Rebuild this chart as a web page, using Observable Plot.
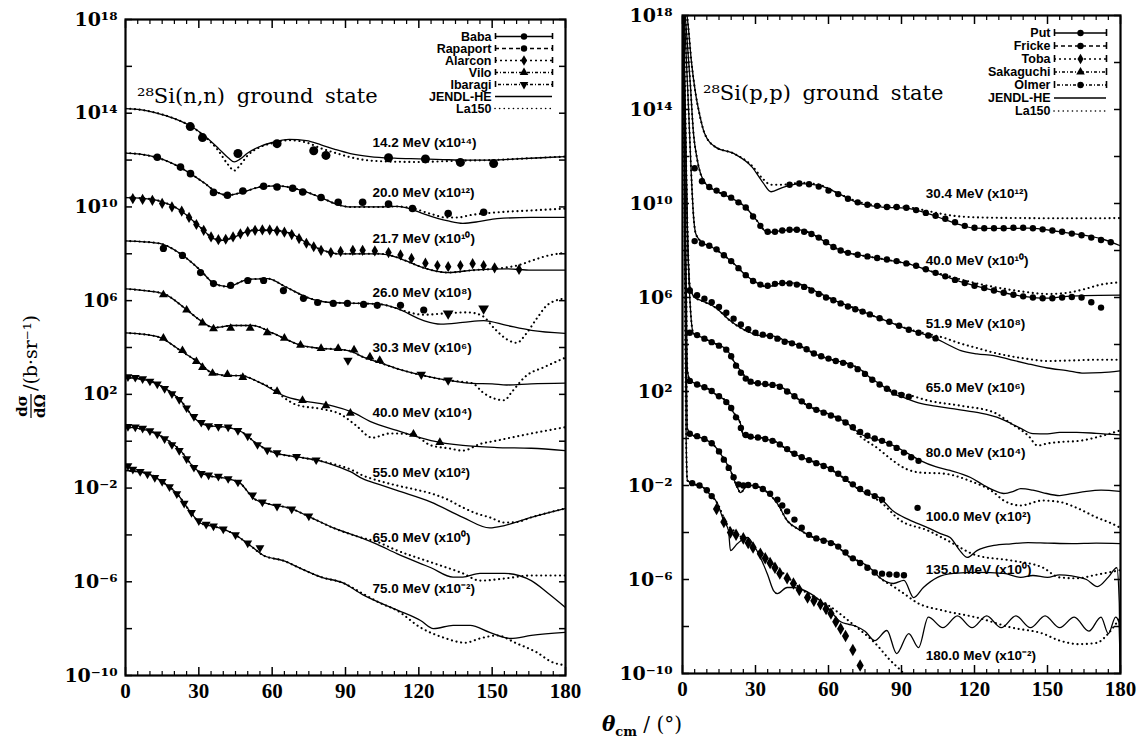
<!DOCTYPE html>
<html><head><meta charset="utf-8">
<script src="https://cdn.jsdelivr.net/npm/d3@7"></script>
<script src="https://cdn.jsdelivr.net/npm/@observablehq/plot@0.6"></script>
<style>
body{margin:0;background:#fff;}
#wrap{position:relative;width:1138px;height:741px;overflow:hidden;background:#fff;}
.abs{position:absolute;}
.title{font-family:"DejaVu Serif",serif;font-size:21px;word-spacing:5px;color:#000;white-space:nowrap;line-height:1;}
</style></head><body><div id="wrap"></div>
<script>
// ---------- tick values ----------
const angleMajor = [0,30,60,90,120,150,180];
const angleMinor = [5,10,15,20,25,35,40,45,50,55,65,70,75,80,85,95,100,105,110,115,125,130,135,140,145,155,160,165,170,175];
const yTickExp = [-10,-8,-6,-4,-2,0,2,4,6,8,10,12,14,16,18];
const yLabelExp = [-10,-6,-2,2,6,10,14,18];

// ---------- LEFT PANEL: 28Si(n,n)  [angle (deg), log10 of scaled dσ/dΩ] ----------
const nJ14 = [[0,14.2],[6,14.15],[12,14.03],[20,13.77],[27,13.43],[33,12.97],[38,12.5],[42,12.1],[44.5,11.92],[47,12.05],[50,12.3],[55,12.58],[60,12.75],[67,12.88],[74,12.83],[80,12.65],[86,12.45],[92,12.28],[100,12.15],[110,12.08],[120,12.05],[130,12.02],[140,12.0],[150,12.0],[160,12.05],[170,12.1],[180,12.15]];
const nL14 = [[0,14.2],[6,14.15],[12,14.03],[20,13.77],[27,13.43],[33,12.95],[38,12.4],[42,11.8],[44.5,11.55],[47,11.8],[50,12.2],[55,12.55],[60,12.72],[67,12.85],[74,12.75],[80,12.5],[86,12.3],[92,12.12],[100,11.98],[110,11.93],[120,11.92],[130,11.95],[140,11.98],[150,12.0],[160,12.05],[170,12.1],[180,12.15]];
const nX14 = [[26.5,13.43],[31.5,12.96],[46,12.28],[62,12.7],[77,12.4],[82,12.2],[107.6,12.1],[122.7,12.05],[137,11.9],[150.6,11.85]];

const nJ20 = [[0,12.3],[6,12.25],[13,12.1],[22.5,11.68],[32,11.04],[37.6,10.62],[41.7,10.5],[47,10.6],[56.5,10.88],[62,10.9],[71.6,10.72],[80,10.4],[86.7,10.1],[92,10.0],[104,10.0],[111,10.02],[117,9.9],[122,9.7],[128,9.5],[132,9.4],[138,9.3],[145,9.38],[152,9.5],[166,9.55],[180,9.55]];
const nL20 = [[0,12.3],[6,12.25],[13,12.1],[22.5,11.68],[32,11.04],[37.6,10.62],[41.7,10.5],[47,10.6],[56.5,10.88],[62,10.9],[71.6,10.72],[80,10.4],[86.7,10.1],[92,10.0],[104,10.0],[111,10.02],[117,9.95],[125,9.7],[131,9.55],[136,9.55],[141,9.65],[152,9.77],[166,9.85],[180,9.93]];
const nX20 = [[13,12.12],[22.5,11.7],[26.6,11.42],[36,10.62],[41.7,10.5],[48,10.68],[56.5,10.88],[62,10.85],[68.4,10.8],[72.5,10.64],[80,10.4],[87,10.2],[97,10.2],[107.6,10.12],[117.4,9.93],[132,9.72],[146.5,9.77]];

const nJ21 = [[0,10.4],[6,10.38],[13,10.28],[22.5,9.85],[30.7,9.12],[36,8.65],[39.7,8.57],[44,8.7],[52,9.0],[60.5,9.0],[67.5,8.87],[74.5,8.44],[81,8.14],[86.7,8.0],[97,8.0],[104,8.0],[111,7.85],[117,7.6],[122,7.4],[132,7.2],[142,7.3],[156,7.36],[166,7.3],[180,7.3]];
const nL21 = [[0,10.4],[6,10.38],[13,10.28],[22.5,9.85],[30.7,9.12],[36,8.65],[39.7,8.57],[44,8.7],[52,9.0],[60.5,9.0],[67.5,8.87],[74.5,8.44],[81,8.14],[86.7,8.0],[97,8.0],[104,8.0],[111,7.85],[117,7.6],[122,7.4],[132,7.2],[142,7.3],[150,7.35],[156,7.42],[161,7.52],[166,7.7],[172,7.9],[180,8.05]];
const nX21 = [[3,10.35],[7,10.32],[11,10.28],[15,10.15],[19,10.0],[23,9.82],[26,9.55],[29,9.25],[32,9.0],[35,8.72],[38,8.6],[41,8.62],[44,8.72],[47,8.85],[50,8.95],[53,9.0],[56,9.02],[59,9.02],[62,8.98],[65,8.92],[68,8.82],[71,8.65],[74,8.45],[77,8.3],[80,8.15],[84,8.05],[88,8.1],[93,8.15],[97,8.15],[102,8.12],[107.6,8.05],[112.5,7.95],[117,7.8],[122.7,7.6],[127.6,7.5],[132,7.45],[137,7.5],[142,7.58],[146.5,7.5],[151,7.4],[161,7.33]];

const nJ26 = [[0,8.55],[6,8.52],[14,8.44],[22.5,8.0],[30.7,7.29],[36,6.75],[41.7,6.6],[50,6.9],[58,6.94],[66,6.56],[74.5,6.13],[84,5.92],[97,5.88],[104,5.85],[111,5.67],[122,5.15],[129,5.0],[138,5.07],[146.5,5.15],[156,4.94],[166,4.73],[180,4.6]];
const nL26 = [[0,8.55],[6,8.52],[14,8.44],[22.5,8.0],[30.7,7.29],[36,6.75],[41.7,6.6],[50,6.9],[58,6.94],[66,6.56],[74.5,6.13],[84,5.92],[97,5.88],[104,5.85],[111,5.67],[116,5.5],[122,5.4],[130,5.45],[140,5.5],[146,5.35],[151,4.8],[156,4.35],[160,4.2],[164,4.6],[168,5.2],[173,5.85],[180,6.1]];
const nX26 = [[15.5,8.23],[23.3,7.93],[30.7,7.2],[36,6.73],[43,6.65],[50,6.86],[56.5,6.86],[64.6,6.43],[72.8,6.1],[78.6,5.92],[85,5.88],[90.8,5.88],[97.4,5.84],[103,5.8],[112.5,5.8],[122,5.6]];
const nI26 = [[132,5.45],[146.5,5.66]];

const nJ30 = [[0,6.5],[6,6.45],[15.5,6.3],[24,5.7],[30.7,5.15],[36,4.85],[44,4.94],[52,4.94],[60.5,4.6],[71.6,4.1],[80,3.96],[86,3.93],[92,3.85],[97,3.6],[104,3.35],[111,3.1],[122,2.8],[132,2.6],[142,2.47],[150,2.45],[156,2.4],[166,2.45],[180,2.48]];
const nL30 = [[0,6.5],[6,6.45],[15.5,6.3],[24,5.7],[30.7,5.15],[36,4.85],[44,4.94],[52,4.94],[60.5,4.6],[71.6,4.1],[80,3.96],[86,3.93],[92,3.85],[97,3.6],[104,3.35],[111,3.1],[122,2.8],[132,2.6],[142,2.47],[146,2.1],[150,1.85],[155,1.75],[158,2.1],[164,2.8],[171,3.15],[180,3.57]];
const nX30 = [[15.5,6.25],[25,5.6],[31.5,5.05],[36,4.8],[43,4.82],[51,4.82],[58,4.63],[65,4.4],[71.6,4.1],[80,3.96],[87,3.96],[93.5,3.9],[100,3.6],[104,3.45]];
const nI30 = [[91,3.45],[121,2.85],[132,2.6]];

const nJ40 = [[0,4.62],[6,4.58],[14,4.43],[22.5,3.87],[30.7,3.3],[34.8,2.95],[41.7,2.8],[47,2.8],[55,2.5],[64.6,1.95],[71.6,1.74],[80,1.6],[85,1.5],[93,1.23],[100,0.85],[111,0.46],[125,0.03],[138,-0.18],[152,-0.27],[166,-0.3],[180,-0.4]];
const nL40 = [[0,4.62],[6,4.58],[14,4.43],[22.5,3.87],[30.7,3.3],[34.8,2.95],[41.7,2.8],[47,2.8],[55,2.5],[60,2.25],[65,1.85],[70,1.55],[80,1.38],[88,1.15],[94,0.7],[101,0.15],[108,0.33],[117,0.3],[125,-0.18],[132,-0.3],[138,-0.4],[145,-0.12],[152,0.03],[166,0.33],[180,0.6]];
const nX40 = [[15.5,4.4],[23.3,3.87],[29,3.4],[31.5,3.15],[35.6,2.9],[41.7,2.85],[48,2.72],[62,2.13],[72.4,1.74],[82,1.52],[92,1.2],[117.8,0.3],[128.6,-0.05]];

const nJ55 = [[0,2.72],[9,2.6],[15.5,2.3],[22.5,1.74],[28,1.0],[33.5,0.67],[41.7,0.59],[48,0.37],[53.6,-0.1],[60.5,-0.48],[71.6,-0.69],[80,-0.85],[86,-1.05],[92,-1.3],[97,-1.6],[104,-1.85],[111,-2.1],[125,-2.6],[138,-3.25],[149,-3.7],[155,-3.6],[166,-3.25],[180,-2.87]];
const nL55 = [[0,2.72],[9,2.6],[15.5,2.3],[22.5,1.74],[28,1.0],[33.5,0.67],[41.7,0.59],[48,0.37],[53.6,-0.1],[60.5,-0.48],[71.6,-0.69],[80,-0.85],[86,-1.0],[92,-1.2],[97,-1.46],[104,-1.7],[111,-1.89],[118,-2.05],[125,-2.23],[132,-2.5],[138,-2.83],[144,-3.1],[149,-3.25],[155,-3.47],[160,-3.45],[166,-3.25],[180,-2.87]];
const nX55 = [[1,2.75],[4,2.72],[7,2.66],[10,2.56],[13,2.44],[16,2.25],[19,2.02],[22,1.78],[25,1.42],[28,1.05],[31,0.8],[34,0.66],[38,0.62],[42,0.6],[46,0.45],[50,0.22],[54,-0.15],[58,-0.38],[62,-0.5],[70,-0.65],[78,-0.8]];

const nJ65 = [[0,0.6],[9,0.46],[15.5,0.16],[22.5,-0.4],[28,-1.12],[33.5,-1.46],[41.7,-1.6],[47,-1.8],[52.4,-2.44],[58,-2.66],[67.5,-2.87],[75.7,-3.25],[85,-3.7],[96,-4.1],[103,-4.4],[111,-4.8],[125,-5.4],[134,-5.8],[138,-5.8],[145,-5.64],[155,-5.64],[166,-5.95],[173,-6.5],[180,-7.1]];
const nL65 = [[0,0.6],[9,0.46],[15.5,0.16],[22.5,-0.4],[28,-1.12],[33.5,-1.46],[41.7,-1.6],[47,-1.8],[52.4,-2.44],[58,-2.66],[67.5,-2.87],[75.7,-3.25],[85,-3.7],[96,-4.1],[103,-4.3],[111,-4.66],[125,-5.17],[138,-5.64],[145,-5.95],[155,-5.86],[166,-5.73],[180,-5.73]];
const nX65 = [[1,0.62],[4,0.6],[7,0.55],[10,0.44],[13,0.3],[16,0.1],[19,-0.15],[22,-0.4],[25,-0.75],[28,-1.12],[31,-1.38],[34,-1.45],[38,-1.5],[42,-1.6],[46,-1.75],[52,-2.3],[56,-2.6],[62,-2.78],[68,-2.9],[75,-3.2]];

const nJ75 = [[0,-1.25],[9,-1.38],[15.5,-1.76],[21,-2.23],[27,-3.08],[30.7,-3.5],[37.6,-3.68],[44,-3.94],[51,-4.45],[56.5,-4.88],[64.6,-5.1],[71.6,-5.43],[80,-5.8],[89,-6.05],[97,-6.55],[111,-7.2],[120.7,-7.65],[126,-8.0],[134,-7.86],[141,-7.86],[149,-8.16],[157.5,-8.42],[166,-8.29],[180,-8.16]];
const nL75 = [[0,-1.25],[9,-1.38],[15.5,-1.76],[21,-2.23],[27,-3.08],[30.7,-3.5],[37.6,-3.68],[44,-3.94],[51,-4.45],[56.5,-4.88],[64.6,-5.1],[71.6,-5.43],[80,-5.8],[89,-6.05],[97,-6.5],[104,-6.9],[111,-7.22],[120.7,-7.95],[130,-8.38],[139,-8.6],[145,-8.42],[152,-8.29],[160,-8.63],[168,-9.0],[175,-9.45],[180,-9.56]];
const nX75 = [[1,-1.05],[3,-1.2],[6,-1.3],[9,-1.4],[12,-1.55],[15,-1.72],[18,-1.95],[21,-2.25],[24,-2.65],[27,-3.05],[30,-3.4],[33,-3.55],[36,-3.62],[40,-3.75],[45,-4.0],[50,-4.35],[55,-4.55]];

const nLabels = [
  {t:"14.2 MeV (x10¹⁴)", a:101, l:12.75},{t:"20.0 MeV (x10¹²)", a:101, l:10.62},
  {t:"21.7 MeV (x10¹⁰)", a:101, l:8.65},{t:"26.0 MeV (x10⁸)", a:101, l:6.35},
  {t:"30.3 MeV (x10⁶)", a:101, l:4.0},{t:"40.0 MeV (x10⁴)", a:101, l:1.23},
  {t:"55.0 MeV (x10²)", a:101, l:-1.33},{t:"65.0 MeV (x10⁰)", a:101, l:-4.1},
  {t:"75.0 MeV (x10⁻²)", a:101, l:-6.28}];

// ---------- RIGHT PANEL: 28Si(p,p) ----------
const pJ30 = [[0.3,19],[1.5,18.3],[2.3,17.6],[3.6,16.1],[5.5,14.6],[6.8,13.9],[9,13.0],[13.6,12.4],[21,12.13],[28.6,11.55],[33,10.9],[36.4,10.5],[41,10.68],[48.6,10.85],[56,10.77],[63.6,10.45],[72,10.03],[82,9.85],[92,9.8],[100,9.6],[107,9.35],[114,9.1],[120,8.95],[130,8.94],[142,8.95],[155,8.8],[165,8.65],[172,8.5],[180,8.2]];
const pL30 = [[0.3,19],[1.5,18.3],[2.3,17.6],[3.6,16.1],[5.5,14.6],[6.8,13.9],[9,13.0],[13.6,12.4],[21,12.13],[28.6,11.6],[33,11.05],[36.4,10.8],[41,10.8],[48.6,10.88],[56,10.8],[63.6,10.45],[72,10.08],[82,9.9],[92,9.85],[100,9.7],[107,9.55],[114,9.45],[125,9.4],[140,9.38],[160,9.37],[180,9.38]];
const pX30 = [[44,10.8],[48,10.85],[52,10.82],[56,10.72],[60,10.55],[64,10.4],[68,10.2],[72,10.05],[76,9.95],[80,9.9],[84,9.85],[88,9.85],[92,9.82],[96,9.72],[100,9.6],[104,9.48],[108,9.35],[112,9.2],[116,9.05],[120,8.97],[124,8.95],[128,8.95],[132,8.95],[136,8.97],[140,8.97],[144,8.95],[148,8.9],[152,8.85],[156,8.8],[160,8.72],[164,8.65],[168,8.55],[172,8.45],[176,8.35]];

const pJ40 = [[0.3,19],[1.5,17.5],[3.2,15.1],[4.5,13.0],[5.9,11.96],[9.1,10.89],[13.6,10.55],[19.5,10.26],[26,9.83],[30.5,9.28],[35,8.77],[41,8.85],[47,8.89],[53,8.72],[59,8.34],[66,7.95],[73,7.8],[80,7.68],[87,7.55],[94,7.4],[101,7.15],[108,6.9],[115,6.65],[122,6.45],[130,6.25],[140,6.05],[150,5.97],[158,6.05],[165,6.08],[180,6.1]];
const pL40 = [[0.3,19],[1.5,17.5],[3.2,15.1],[4.5,13.0],[5.9,11.96],[9.1,10.89],[13.6,10.55],[19.5,10.26],[26,9.83],[30.5,9.28],[35,8.77],[41,8.85],[47,8.89],[53,8.72],[59,8.34],[66,7.95],[73,7.8],[80,7.68],[87,7.55],[94,7.4],[101,7.15],[108,6.95],[115,6.75],[128,6.45],[140,6.25],[150,6.15],[158,6.2],[165,6.35],[172,6.55],[180,6.65]];
const pX40 = [[5,11.5],[8,10.95],[11,10.7],[14,10.55],[17,10.4],[20,10.25],[23,10.05],[26,9.83],[29,9.45],[32,9.05],[35,8.8],[38,8.8],[41,8.85],[44,8.88],[47,8.88],[50,8.8],[53,8.7],[56,8.55],[59,8.35],[62,8.15],[65,8.0],[68,7.9],[72,7.82],[76,7.75],[80,7.68],[84,7.62],[88,7.55],[92,7.45],[96,7.35],[100,7.2],[104,7.05],[108,6.9],[112,6.75],[116,6.62],[120,6.5],[124,6.4],[128,6.3],[132,6.2],[136,6.12],[140,6.05],[144,6.0],[148,5.97],[152,5.97],[156,6.0],[160,6.02],[164,6.0],[168,5.8],[172,5.57]];

const pJ52 = [[0.3,19],[1.2,17],[2.5,14],[3.5,11.5],[4.5,9.5],[5.5,8.7],[8,8.35],[12,8.15],[17,7.8],[21.5,7.4],[26,6.95],[31,6.6],[35,6.45],[40,6.6],[45,6.62],[50,6.5],[56,6.2],[62,5.9],[68,5.65],[73,5.45],[80,5.15],[86.4,4.9],[94,4.6],[100.8,4.38],[104,4.26],[109,4.0],[114.4,3.74],[121,3.6],[128,3.53],[135,3.35],[141.5,3.19],[150,3.0],[158,2.89],[165,2.78],[172,2.8],[180,2.88]];
const pL52 = [[0.3,19],[1.2,17],[2.5,14],[3.5,11.5],[4.5,9.5],[5.5,8.7],[8,8.35],[12,8.15],[17,7.8],[21.5,7.4],[26,6.95],[31,6.6],[35,6.45],[40,6.6],[45,6.62],[50,6.5],[56,6.2],[62,5.9],[68,5.65],[73,5.45],[80,5.15],[86.4,4.9],[94,4.62],[100.8,4.45],[107,4.3],[114,4.05],[121,3.85],[128,3.65],[141,3.4],[150,3.3],[160,3.32],[170,3.35],[180,3.35]];
const pX52 = [[5,8.4],[8,8.3],[11,8.2],[14,8.05],[17,7.8],[20,7.55],[23,7.25],[26,6.95],[29,6.7],[32,6.55],[35,6.5],[38,6.58],[41,6.62],[44,6.6],[47,6.55],[50,6.45],[53,6.3],[56,6.15],[59,6.0],[62,5.88],[65,5.75],[68,5.62],[71,5.5],[74,5.4],[77,5.28],[81,5.12],[85,4.97],[89,4.8],[93,4.63],[97,4.5],[101,4.38],[104,4.26]];

const pJ65 = [[0.3,19],[1,15],[2,9],[3,6.5],[5,6.0],[7.7,5.87],[13.6,5.57],[19.5,5.02],[24,4.7],[28,4.5],[32,4.38],[36,4.38],[41,4.22],[45.6,4.04],[50,3.85],[54,3.62],[59.6,3.4],[67.8,3.19],[73,2.95],[77,2.6],[81.4,2.3],[86.7,1.91],[92,1.7],[97.8,1.49],[104,1.38],[110,1.28],[121,1.11],[130.7,0.85],[135,0.64],[139,0.43],[144,0.21],[150,0.2],[155,0.26],[162,0.26],[170,0.22],[180,0.15]];
const pL65 = [[0.3,19],[1,15],[2,9],[3,6.5],[5,6.0],[7.7,5.87],[13.6,5.57],[19.5,5.02],[24,4.7],[28,4.5],[32,4.38],[36,4.38],[41,4.22],[45.6,4.04],[50,3.85],[54,3.62],[59.6,3.4],[67.8,3.19],[73,2.95],[77,2.6],[81.4,2.3],[86.7,2.0],[93.7,1.83],[100.7,1.62],[114,1.4],[128,1.11],[135,0.64],[142,0.13],[146,-0.3],[150,-0.21],[155,-0.15],[163,-0.1],[172,0.1],[180,0.35]];
const pX65 = [[3,6.3],[6,6.1],[9,5.95],[12,5.8],[15,5.6],[18,5.35],[21,5.1],[24,4.85],[27,4.65],[30,4.5],[33,4.42],[36,4.36],[39,4.25],[42,4.12],[45,4.05],[48,3.95],[51,3.8],[54,3.62],[57,3.5],[60,3.4],[63,3.3],[66,3.22],[69,3.12],[72,2.95],[75,2.75],[78,2.5],[81,2.3],[84,2.12],[87,1.95],[90,1.85],[93,1.78]];

const pJ80 = [[0.3,19],[1,14],[2,9],[3,6],[4.5,4.47],[8,4.3],[12,4.1],[18.5,3.74],[21,3.3],[23.8,2.89],[26,2.6],[29,2.38],[34,2.3],[39,2.26],[42,2.1],[45.6,1.83],[51.4,1.4],[59.6,1.06],[67.8,0.64],[73,0.2],[81.4,-0.09],[86.7,-0.3],[92,-0.6],[97.8,-0.94],[104,-1.2],[110,-1.36],[118.4,-1.66],[124,-2.0],[128,-2.21],[132,-2.34],[136,-2.25],[139,-2.13],[144,-2.2],[148,-2.3],[155,-2.43],[160,-2.35],[166,-2.25],[172,-2.2],[180,-2.25]];
const pL80 = [[0.3,19],[1,14],[2,9],[3,6],[4.5,4.47],[8,4.3],[12,4.1],[18.5,3.74],[21,3.3],[23.8,2.89],[26,2.6],[29,2.38],[34,2.3],[39,2.26],[42,2.1],[45.6,1.83],[51.4,1.4],[59.6,1.06],[67.8,0.64],[73,0.1],[80,-0.4],[86,-0.9],[92,-1.3],[97.8,-1.45],[107,-1.49],[118,-1.8],[128,-2.3],[132,-2.64],[139,-2.85],[148,-2.64],[155,-2.7],[162,-2.95],[170,-3.35],[176,-3.6],[180,-3.8]];
const pX80 = [[3,4.5],[6,4.4],[9,4.25],[12,4.1],[15,3.95],[18,3.78],[20,3.5],[22,3.1],[24,2.8],[26,2.55],[28,2.42],[31,2.35],[34,2.32],[37,2.28],[40,2.2],[43,2.0],[46,1.8],[49,1.58],[52,1.38],[55,1.22],[58,1.1],[61,0.98],[64,0.85],[67,0.68],[70,0.48],[73,0.28],[76,0.12],[79,0.0],[82,-0.1],[85,-0.22],[88,-0.4],[91,-0.6],[94,-0.8],[97,-0.95]];

const pJ100 = [[0.3,19],[0.8,14],[1.5,7],[2,2.9],[3,2.5],[6,2.3],[10.3,2.13],[14,1.85],[18.5,1.53],[21,1.1],[23.8,0.64],[25,0.13],[28,0.05],[32,0.04],[35,-0.05],[39,-0.17],[42,-0.4],[45.6,-0.64],[52.6,-0.94],[59.6,-1.23],[66,-1.66],[73,-2.2],[81.4,-2.55],[86.7,-3.1],[93,-3.45],[100.7,-3.79],[106,-4.05],[110,-4.21],[114,-4.77],[117,-5.06],[121,-4.77],[128,-4.55],[135,-4.48],[142,-4.43],[150,-4.45],[160,-4.47],[170,-4.45],[180,-4.47]];
const pL100 = [[0.3,19],[0.8,14],[1.5,7],[2,2.9],[3,2.5],[6,2.3],[10.3,2.13],[14,1.85],[18.5,1.53],[21,1.1],[23.8,0.64],[25,0.13],[28,0.05],[32,0.04],[35,-0.05],[39,-0.17],[42,-0.4],[45.6,-0.64],[52.6,-0.94],[59.6,-1.23],[66,-1.66],[73,-2.2],[81.4,-2.7],[89.6,-3.49],[100.7,-3.91],[110,-4.4],[121,-4.98],[135,-5.19],[148,-5.49],[155,-5.91],[162,-5.95],[170,-5.8],[180,-5.6]];
const pX100 = [[3,2.45],[6,2.3],[9,2.18],[12,2.02],[15,1.8],[18,1.55],[20,1.3],[22,0.9],[24,0.45],[26,0.15],[28,0.08],[31,0.04],[34,-0.02],[37,-0.1],[40,-0.25],[43,-0.45],[46,-0.65],[49,-0.8],[52,-0.92],[55,-1.05],[58,-1.17],[61,-1.3],[64,-1.5],[67,-1.72],[70,-1.95],[73,-2.15],[76,-2.3],[79,-2.45],[82,-2.6],[96.6,-2.95]];

const pJ135 = [[0.3,19],[0.8,12],[1.5,4],[2,0.4],[4,0.15],[7,0.05],[10.3,-0.09],[13,-0.3],[15.6,-0.64],[19.7,-1.36],[22.6,-2.09],[23.8,-2.3],[26.7,-2.0],[29,-2.0],[32,-2.09],[36,-2.4],[39,-2.77],[43,-3.49],[48.5,-3.91],[53.8,-4.21],[62,-4.47],[69,-5.06],[74.4,-5.32],[78,-5.6],[81.4,-5.95],[86.7,-6.17],[91,-6.04],[95,-6.77],[99,-6.34],[104.8,-5.91],[111.4,-5.74],[121,-5.7],[132,-5.74],[139,-5.91],[144,-5.83],[150,-5.91],[155,-5.8],[160,-5.85],[166,-6.0],[170.5,-6.3],[175,-5.9],[178.5,-5.5],[179.5,-7],[180,-10.5]];
const pL135 = [[0.3,19],[0.8,12],[1.5,4],[2,0.4],[4,0.15],[7,0.05],[10.3,-0.09],[13,-0.3],[15.6,-0.64],[19.7,-1.36],[22.6,-2.09],[23.8,-2.3],[26.7,-2.0],[29,-2.0],[32,-2.09],[36,-2.4],[39,-2.77],[43,-3.49],[48.5,-3.91],[53.8,-4.21],[62,-4.47],[69,-5.06],[74.4,-5.32],[78,-5.6],[81.4,-5.95],[86.7,-6.3],[91,-6.6],[96.6,-7.0],[107,-7.32],[121,-7.62],[135,-8.04],[148,-8.3],[155,-8.6],[163,-8.75],[170,-8.7],[175,-8.3],[178,-7.9],[180,-7.6]];
const pX135 = [[3,0.2],[6,0.1],[9,-0.02],[12,-0.2],[15,-0.55],[17,-0.9],[19,-1.25],[21,-1.65],[23,-1.95],[25,-2.0],[27,-1.98],[30,-2.02],[33,-2.15],[36,-2.35],[39,-2.6],[41,-2.85],[43,-3.1],[46,-3.45],[49,-3.8],[52,-4.1],[55,-4.25],[58,-4.35],[61,-4.45],[64,-4.6],[67,-4.85],[70,-5.1],[73,-5.3],[76,-5.5],[79,-5.7],[82,-5.75],[85,-5.78],[88,-5.8],[91,-5.82]];

const pJ180 = [[0.3,19],[0.8,10],[1.5,0],[2,-1.79],[5,-1.95],[8.6,-2.09],[11,-2.35],[14.4,-2.77],[16.9,-3.49],[18.9,-3.91],[19.7,-4.77],[22.6,-4.47],[26.7,-4.21],[29,-4.5],[32,-5.06],[35,-5.8],[37.4,-6.47],[39,-6.6],[43,-6.34],[45.6,-6.34],[52.6,-6.6],[59.6,-7.19],[65,-7.8],[68,-7.9],[71.5,-8.0],[75,-8.2],[79,-8.6],[84,-8.17],[88,-9.15],[93,-8.3],[97,-8.9],[101,-7.6],[107,-8.05],[113,-7.55],[119,-8.05],[125,-7.55],[131,-8.05],[137,-7.55],[143,-8.05],[149,-7.55],[155,-8.05],[161,-7.6],[167,-8.2],[172,-7.6],[175,-8.3],[178,-7.6],[179.3,-7.8],[180,-10.5]];
const pL180 = [[0.3,19],[0.8,10],[1.5,0],[2,-1.79],[5,-1.95],[8.6,-2.09],[11,-2.35],[14.4,-2.77],[18,-3.6],[22,-4.0],[30,-4.7],[40,-5.6],[50,-6.5],[60,-7.1],[70,-7.9],[80,-8.8],[85,-9.4],[90,-9.9],[95,-10.5]];
const pX180 = [[4,-1.9],[7,-2.0],[10,-2.2],[12,-2.45]];
const pD180 = [[14,-3.0],[17,-3.55],[19.7,-4.0],[22,-4.1],[25,-4.25],[27,-4.45],[29,-4.64],[32,-4.9],[34,-5.1],[36,-5.3],[38,-5.5],[40,-5.74],[43,-5.95],[45.6,-6.17],[48,-6.45],[51.4,-6.77],[54,-6.9],[56.7,-7.05],[59,-7.25],[61,-7.45],[63,-7.8],[65,-8.1],[67,-8.4],[70,-9.0],[73,-9.66]];

const pLabels = [
  {t:"30.4 MeV (x10¹²)", a:100, l:10.43},{t:"40.0 MeV (x10¹⁰)", a:100, l:7.57},
  {t:"51.9 MeV (x10⁸)", a:100, l:4.89},{t:"65.0 MeV (x10⁶)", a:100, l:2.17},
  {t:"80.0 MeV (x10⁴)", a:100, l:-0.6},{t:"100.0 MeV (x10²)", a:100, l:-3.32},
  {t:"135.0 MeV (x10⁰)", a:100, l:-5.57},{t:"180.0 MeV (x10⁻²)", a:100, l:-9.23}];

// legends
const nLegend = [
  {name:"Baba", dash:null, sym:"circle", rot:0},
  {name:"Rapaport", dash:"4,3", sym:"circle", rot:0},
  {name:"Alarcon", dash:"2,3", sym:"diamond", rot:0},
  {name:"Vilo", dash:"3,2,1,2", sym:"triangle", rot:0},
  {name:"Ibaragi", dash:"1,2,3,2", sym:"triangle", rot:180},
  {name:"JENDL-HE", dash:null, sym:null},
  {name:"La150", dash:"0.1,4.5", sym:null}];
const pLegend = [
  {name:"Put", dash:null, sym:"circle", rot:0},
  {name:"Fricke", dash:"4,3", sym:"circle", rot:0},
  {name:"Toba", dash:"2,3", sym:"diamond", rot:0},
  {name:"Sakaguchi", dash:"3,2,1,2", sym:"triangle", rot:0},
  {name:"Olmer", dash:"1,2,3,2", sym:"circle", rot:0},
  {name:"JENDL-HE", dash:null, sym:null},
  {name:"La150", dash:"0.1,4.5", sym:null}];

// ---------- helpers ----------
const SUP = {"-":"⁻","0":"⁰","1":"¹","2":"²","3":"³","4":"⁴","5":"⁵","6":"⁶","7":"⁷","8":"⁸","9":"⁹"};
const pow10Label = v => "10" + [...String(Math.round(Math.log10(v)))].map(c => SUP[c]).join("");
const pts = arr => arr.map(([a, l]) => ({a, v: Math.pow(10, l)}));
const yTicks = yTickExp.map(e => Math.pow(10, e));
const yLabels = yLabelExp.map(e => Math.pow(10, e));
const blank = () => "";
const YFONT = {fontFamily:"DejaVu Serif", fontWeight:"bold", fontSize:19};
const XFONT = {fontFamily:"Liberation Serif", fontWeight:"bold", fontSize:21};

function panel(series, labels, geom, dotR) {
  const marks = [];
  for (const s of series) {
    marks.push(Plot.line(pts(s.j), {x:"a", y:"v", stroke:"#000", strokeWidth:1.3, curve:"monotone-x", clip:true}));
    marks.push(Plot.line(pts(s.l), {x:"a", y:"v", stroke:"#000", strokeWidth:2.1, strokeDasharray:"0.1,4.6", strokeLinecap:"round", curve:"monotone-x", clip:true}));
    for (const e of s.x) marks.push(Plot.dot(pts(e.d), {x:"a", y:"v", r:e.r ?? dotR, symbol:e.sym ?? "circle", rotate:e.rot ?? 0, fill:"#000", stroke:"none", clip:true}));
  }
  marks.push(Plot.text(labels.map(d => ({...d, v: Math.pow(10, d.l)})), {x:"a", y:"v", text:"t", textAnchor:"start", fontFamily:"Liberation Sans", fontWeight:"bold", fontSize:13.5, fill:"#000"}));
  marks.push(
    Plot.axisY(yTicks, {anchor:"left", tickSize:-7, tickFormat:blank, strokeWidth:1.5, label:null}),
    Plot.axisY(yTicks, {anchor:"right", tickSize:-7, tickFormat:blank, strokeWidth:1.5, label:null}),
    Plot.axisY(yLabels, {anchor:"left", tickSize:0, tickPadding:geom.yPad, tickFormat:pow10Label, label:null, ...YFONT}),
    Plot.axisX(angleMajor, {anchor:"bottom", tickSize:-8, tickFormat:blank, strokeWidth:1.5, label:null}),
    Plot.axisX(angleMinor, {anchor:"bottom", tickSize:-4, tickFormat:blank, strokeWidth:1.2, label:null}),
    Plot.axisX(angleMajor, {anchor:"top", tickSize:-8, tickFormat:blank, strokeWidth:1.5, label:null}),
    Plot.axisX(angleMinor, {anchor:"top", tickSize:-4, tickFormat:blank, strokeWidth:1.2, label:null}),
    Plot.axisX(angleMajor, {anchor:"bottom", tickSize:0, tickPadding:8, label:null, ...XFONT}),
    Plot.frame({stroke:"#000", strokeWidth:2.2})
  );
  return Plot.plot({
    width: geom.width, height: 741,
    marginLeft: geom.ml, marginRight: geom.mr, marginTop: geom.mt, marginBottom: 741 - geom.bottom,
    x: {domain:[0,180], label:null},
    y: {type:"log", domain:[1e-10,1e18], label:null},
    style: {background:"transparent", overflow:"visible"},
    marks
  });
}

function legendPlot(rows, x0, x1, rowH, fs) {
  const names = rows.map(r => r.name);
  const marks = [
    Plot.text(rows, {x:() => 0, y:"name", text:"name", textAnchor:"end", dx:-4, fontFamily:"Liberation Sans", fontWeight:"bold", fontSize:fs, fill:"#000"})
  ];
  for (const r of rows) {
    marks.push(Plot.ruleY([r], {y:"name", x1:() => 0, x2:() => 1, stroke:"#000", strokeWidth:1.6, strokeDasharray:r.dash ?? "none", strokeLinecap:r.name === "La150" ? "round" : "butt"}));
    if (r.sym) {
      marks.push(Plot.dot([r], {x:() => 0.5, y:"name", symbol:r.sym, rotate:r.rot, r:3.2, fill:"#000"}));
      marks.push(Plot.tickX([r, r], {x:(d, i) => i, y:"name", stroke:"#000", strokeWidth:1.6}));
    }
  }
  return Plot.plot({
    width: x1 + 8, height: rows.length * rowH, margin: 0,
    x: {domain:[0,1], range:[x0, x1], axis:null},
    y: {type:"band", domain:names, range:[0, rows.length * rowH], padding:0.5, axis:null},
    style:{background:"transparent", overflow:"visible"},
    marks
  });
}

// ---------- build ----------
const wrap = document.getElementById("wrap");
const place = (el, left, top) => { el.classList.add("abs"); el.style.left = left + "px"; el.style.top = top + "px"; wrap.appendChild(el); return el; };

const nSeries = [
  {j:nJ14, l:nL14, x:[{d:nX14, r:4.5}]},
  {j:nJ20, l:nL20, x:[{d:nX20, r:3.8}]},
  {j:nJ21, l:nL21, x:[{d:nX21, r:3.4, sym:"diamond"}]},
  {j:nJ26, l:nL26, x:[{d:nX26, r:3.6}, {d:nI26, r:4, sym:"triangle", rot:180}]},
  {j:nJ30, l:nL30, x:[{d:nX30, r:3.3, sym:"triangle"}, {d:nI30, r:3.5, sym:"triangle", rot:180}]},
  {j:nJ40, l:nL40, x:[{d:nX40, r:3.3, sym:"triangle"}]},
  {j:nJ55, l:nL55, x:[{d:nX55, r:3.3, sym:"triangle", rot:180}]},
  {j:nJ65, l:nL65, x:[{d:nX65, r:3.3, sym:"triangle", rot:180}]},
  {j:nJ75, l:nL75, x:[{d:nX75, r:3.3, sym:"triangle", rot:180}]}
];
const pSeries = [
  {j:pJ30, l:pL30, x:[{d:pX30}]},
  {j:pJ40, l:pL40, x:[{d:pX40}]},
  {j:pJ52, l:pL52, x:[{d:pX52}]},
  {j:pJ65, l:pL65, x:[{d:pX65}]},
  {j:pJ80, l:pL80, x:[{d:pX80}]},
  {j:pJ100, l:pL100, x:[{d:pX100}]},
  {j:pJ135, l:pL135, x:[{d:pX135}]},
  {j:pJ180, l:pL180, x:[{d:pX180}, {d:pD180, r:3.8, sym:"diamond"}]}
];

place(panel(nSeries, nLabels, {width:572, ml:125, mr:7, mt:19, bottom:675, yPad:8}, 3.4), 0, 0);
place(panel(pSeries, pLabels, {width:568, ml:112, mr:18, mt:15, bottom:673, yPad:10}, 3.2), 570, 0);

place(legendPlot(nLegend, 195, 252, 13.5, 12.5), 300, 25);
place(legendPlot(pLegend, 204, 256, 14, 12.5), 850, 22);

// titles
const t1 = document.createElement("div"); t1.className = "title"; t1.textContent = "²⁸Si(n,n) ground state"; place(t1, 137, 86);
const t2 = document.createElement("div"); t2.className = "title"; t2.textContent = "²⁸Si(p,p) ground state"; place(t2, 703, 83);

// axis titles
const ns = "http://www.w3.org/2000/svg";
const ylab = document.createElementNS(ns, "svg");
ylab.setAttribute("width", "48"); ylab.setAttribute("height", "140");
ylab.innerHTML = `<g transform="translate(31,70) rotate(-90)" font-family="DejaVu Serif" fill="#000">
  <text x="-48" y="-4" font-size="15" font-weight="bold" text-anchor="middle">dσ</text>
  <line x1="-60" x2="-36" y1="0" y2="0" stroke="#000" stroke-width="1.2"/>
  <text x="-48" y="14" font-size="15" font-weight="bold" text-anchor="middle">dΩ</text>
  <text x="-33" y="6" font-size="19">/(b·sr⁻¹)</text></g>`;
place(ylab, 0, 288);

const xlab = document.createElement("div");
xlab.style.cssText = "font-family:'DejaVu Serif',serif;font-size:20px;white-space:nowrap;line-height:1;";
xlab.innerHTML = "<i style='font-weight:bold'>θ</i><sub style='font-size:13px;font-weight:bold'>cm</sub> / (°)";
place(xlab, 602, 714);
</script></body></html>
